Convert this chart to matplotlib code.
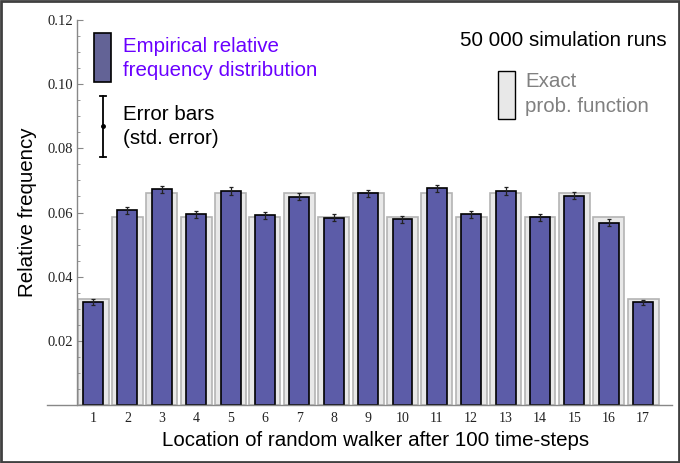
"""
Random walker: empirical relative frequency vs exact probability
after 100 time-steps, 50 000 simulation runs
"""
import matplotlib
matplotlib.use('Agg')
import matplotlib.pyplot as plt
from matplotlib.patches import Rectangle
from matplotlib.lines import Line2D
import numpy as np

SANS = ['Liberation Sans', 'DejaVu Sans']
SERIF = ['Liberation Serif', 'DejaVu Serif']
plt.rcParams['font.family'] = SANS
FS = 14.8

locations = np.arange(1, 18)
exact = [0.0330, 0.0587, 0.0661, 0.0587, 0.0661, 0.0587, 0.0661, 0.0587, 0.0661,
         0.0587, 0.0661, 0.0587, 0.0661, 0.0587, 0.0661, 0.0587, 0.0330]
empirical = [0.0321, 0.0607, 0.0673, 0.0594, 0.0667, 0.0591, 0.0649, 0.0583, 0.0660,
             0.0579, 0.0675, 0.0594, 0.0667, 0.0585, 0.0652, 0.0568, 0.0320]
std_err = [0.0008, 0.0011, 0.0011, 0.0011, 0.0011, 0.0011, 0.0011, 0.0011, 0.0011,
           0.0011, 0.0011, 0.0011, 0.0011, 0.0011, 0.0011, 0.0011, 0.0008]

fig = plt.figure(figsize=(6.8, 4.63), dpi=100)
ax = fig.add_axes([47 / 680, 1 - 405 / 463, 625 / 680, 385 / 463])

ax.bar(locations, exact, width=0.9, color='#e8e8e8', edgecolor='#b4b4b4', linewidth=1.2, zorder=1)
ax.bar(locations, empirical, width=0.58, color='#5c5ca8', edgecolor='black', linewidth=1.2, zorder=2)
ax.errorbar(locations, empirical, yerr=std_err, fmt='none', ecolor='#222222',
            elinewidth=0.9, capsize=1.5, capthick=0.9, zorder=3)

ax.set_xlim(-0.34, 17.84)
ax.set_ylim(0, 0.12)
ax.spines['top'].set_visible(False)
ax.spines['right'].set_visible(False)
ax.spines['left'].set_position(('data', 0.53))
for s in ('left', 'bottom'):
    ax.spines[s].set_color('#888888')
    ax.spines[s].set_linewidth(1.0)

ax.set_xticks(locations)
ax.set_yticks(np.arange(0.02, 0.121, 0.02))
ax.set_yticks(np.arange(0.005, 0.12, 0.005), minor=True)
ax.yaxis.set_major_formatter(plt.FuncFormatter(lambda v, _: f'{v:.2f}'))
ax.tick_params(axis='x', length=0, pad=5, labelsize=10, labelcolor='#222222')
ax.tick_params(axis='y', which='major', direction='in', length=4, color='#888888',
               labelsize=10.5, labelcolor='#222222', pad=3)
ax.tick_params(axis='y', which='minor', direction='in', length=2, color='#888888')
for lab in ax.get_xticklabels() + ax.get_yticklabels():
    lab.set_family(SERIF)

fig.text(28 / 680, 1 - 212 / 463, 'Relative frequency', rotation=90, fontsize=FS,
         ha='center', va='center')
fig.text(376 / 680, 1 - 441 / 463, 'Location of random walker after 100 time-steps',
         fontsize=FS, ha='center', va='center')

# legend-like annotations drawn in figure pixels
def px(x, y):
    return x / 680, 1 - y / 463

fig.patches.append(Rectangle(px(94, 82), 17 / 680, 49 / 463, transform=fig.transFigure,
                             facecolor='#636396', edgecolor='black', linewidth=1.2))
fig.text(*px(123, 46), 'Empirical relative', fontsize=FS, color='#6a00ff', va='center')
fig.text(*px(123, 71), 'frequency distribution', fontsize=FS, color='#6a00ff', va='center')

ex, ey0, ey1, emid = px(103, 96)[0], px(103, 96)[1], px(103, 157)[1], px(103, 126)[1]
fig.lines.append(Line2D([ex, ex], [ey0, ey1], transform=fig.transFigure, color='black', lw=1.3))
for yy in (ey0, ey1):
    fig.lines.append(Line2D([ex - 3 / 680, ex + 3 / 680], [yy, yy], transform=fig.transFigure,
                            color='black', lw=1.3))
fig.lines.append(Line2D([ex], [emid], transform=fig.transFigure, marker='o', markersize=2.5,
                        color='black'))
fig.text(*px(123, 114), 'Error bars', fontsize=FS, color='black', va='center')
fig.text(*px(123, 139), '(std. error)', fontsize=FS, color='black', va='center')

fig.text(*px(667, 40), '50 000 simulation runs', fontsize=FS, color='black', ha='right', va='center')
fig.patches.append(Rectangle(px(498, 119), 17 / 680, 48 / 463, transform=fig.transFigure,
                             facecolor='#e8e8e8', edgecolor='black', linewidth=1.0))
fig.text(*px(525, 82), 'Exact', fontsize=FS, color='#808080', va='center')
fig.text(*px(525, 107), 'prob. function', fontsize=FS, color='#808080', va='center')

# outer frame
fig.patches.append(Rectangle((0.0015, 0.002), 0.997, 0.996, transform=fig.transFigure,
                             facecolor='none', edgecolor='#404040', linewidth=2.0))

fig.savefig('out.png', dpi=100)
print("saved: out.png")
